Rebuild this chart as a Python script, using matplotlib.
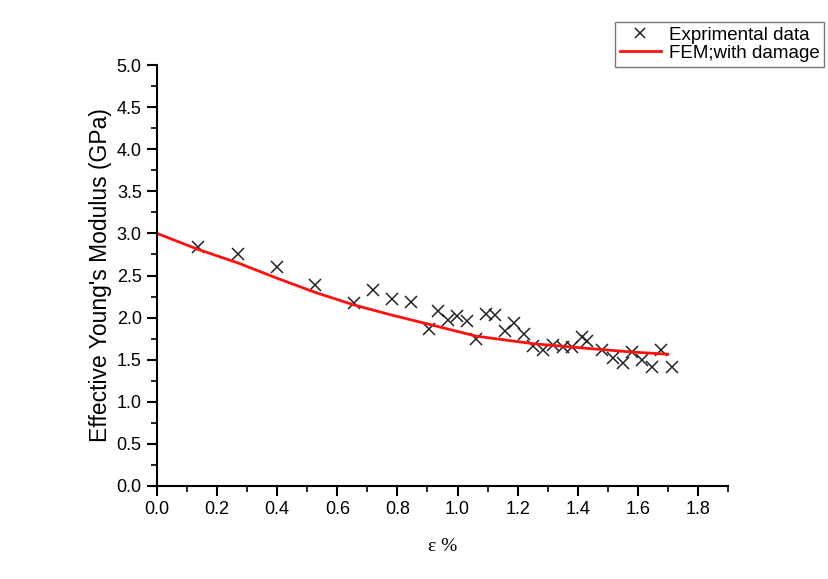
import matplotlib
matplotlib.use("Agg")
import matplotlib.pyplot as plt
from matplotlib.ticker import MultipleLocator

# Experimental data (strain %, modulus GPa)
exp_strain = [0.137, 0.269, 0.398, 0.526, 0.656, 0.718, 0.781, 0.844, 0.906, 0.936,
              0.967, 0.999, 1.031, 1.062, 1.095, 1.125, 1.158, 1.189, 1.221, 1.252,
              1.286, 1.317, 1.350, 1.381, 1.413, 1.430, 1.480, 1.516, 1.550, 1.582,
              1.615, 1.648, 1.677, 1.713]
exp_modulus = [2.84, 2.76, 2.60, 2.39, 2.17, 2.33, 2.22, 2.19, 1.86, 2.08,
               1.97, 2.02, 1.96, 1.75, 2.04, 2.03, 1.84, 1.93, 1.81, 1.66,
               1.62, 1.67, 1.65, 1.65, 1.77, 1.72, 1.62, 1.52, 1.46, 1.59,
               1.50, 1.41, 1.62, 1.41]

# FEM curve with damage
fem_strain = [0.0, 0.137, 0.269, 0.398, 0.526, 0.656, 0.781, 0.906, 1.062, 1.252, 1.430, 1.585, 1.700]
fem_modulus = [3.0, 2.81, 2.65, 2.47, 2.30, 2.15, 2.03, 1.92, 1.78, 1.69, 1.635, 1.59, 1.565]

plt.rcParams['font.family'] = ['Liberation Sans', 'DejaVu Sans']

fig = plt.figure(figsize=(8.29, 5.79), dpi=100)
ax = fig.add_axes([157/829, 1-486/579, (728-157)/829, (486-65)/579])

ax.plot(exp_strain, exp_modulus, linestyle='none', marker='x', color='#222222',
        markersize=9, markeredgewidth=1.1, label='Exprimental data')
ax.plot(fem_strain, fem_modulus, color='#ff1010', linewidth=2.0, label='FEM;with damage')

ax.set_xlim(0, 1.9)
ax.set_ylim(0, 5.0)
ax.xaxis.set_minor_locator(MultipleLocator(0.1))
ax.yaxis.set_major_locator(MultipleLocator(0.5))
ax.yaxis.set_minor_locator(MultipleLocator(0.25))
ax.set_xticks([0.0, 0.2, 0.4, 0.6, 0.8, 1.0, 1.2, 1.4, 1.6, 1.8])
ax.set_xticklabels(['0.0', '0.2', '0.4', '0.6', '0.8', '1.0', '1.2', '1.4', '1.6', '1.8'])

for s in ['top', 'right']:
    ax.spines[s].set_visible(False)
for s in ['left', 'bottom']:
    ax.spines[s].set_linewidth(1.5)

ax.tick_params(which='major', direction='out', length=7, width=1.5, labelsize=13, pad=4)
ax.tick_params(which='minor', direction='out', length=4, width=1.2)

ax.set_ylabel("Effective Young's Modulus (GPa)", fontsize=16.5, labelpad=3)
ax.set_xlabel("ε %", fontsize=14, family=['Liberation Serif', 'DejaVu Serif'], labelpad=14)

leg = ax.legend(loc='upper right', bbox_to_anchor=(824/829, 1-22/579), bbox_transform=fig.transFigure,
                fontsize=13.5, frameon=True, fancybox=False, edgecolor='#555555',
                handlelength=2.2, borderpad=0.25, labelspacing=0.05, handletextpad=0.4,
                borderaxespad=0, markerscale=0.75)
leg.get_frame().set_linewidth(1.0)

fig.savefig('out.png', dpi=100)
